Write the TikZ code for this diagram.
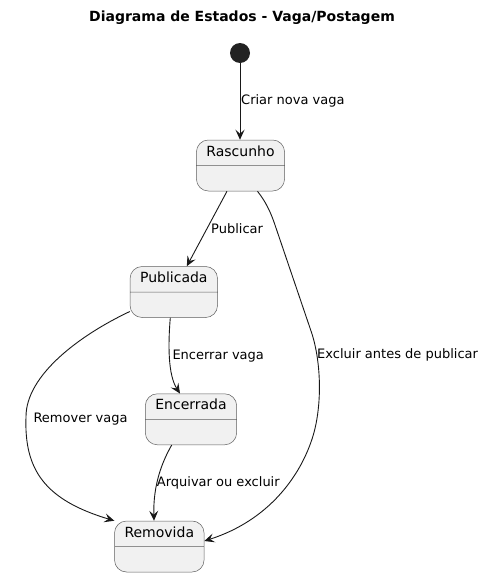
\documentclass[tikz,border=0pt]{standalone}
\usepackage{fontspec}
\setmainfont{DejaVu Sans}
\usepackage{xcolor}
\usetikzlibrary{
  arrows.meta,
  shapes.multipart
}
\definecolor{statefill}{HTML}{F1F1F1}
\definecolor{lineclr}{HTML}{181818}
\definecolor{startclr}{HTML}{222222}

\begin{document}
\begin{tikzpicture}[x=1pt, y=-1pt,
  state/.style = {rectangle split, rectangle split parts=2,
    draw=lineclr!70, fill=statefill, line width=0.5pt,
    rounded corners=12pt, inner xsep=10pt, inner ysep=4pt,
    font=\fontsize{14}{17}\selectfont},
  lbl/.style = {anchor=west, inner sep=0pt, font=\fontsize{13}{15.6}\selectfont},
  arr/.style = {draw=lineclr, line width=0.9pt,
    -{Stealth[length=10pt, width=9pt, inset=4pt]}}]
  \useasboundingbox (0,0) rectangle (485,576);
  \node[font=\bfseries\fontsize{14}{17}\selectfont] (title) at (242,18) {Diagrama de Estados - Vaga/Postagem};
  \node[circle, fill=startclr, minimum size=20pt, inner sep=0pt] (init) at (240,53) {};
  \node[state] (rasc) at (240.5,165.5) {\strut Rascunho\nodepart{two}\strut};
  \node[state] (publ) at (173.8,292) {\strut Publicada\nodepart{two}\strut};
  \node[state] (ence) at (191,419.3) {\strut Encerrada\nodepart{two}\strut};
  \node[state] (remo) at (159.3,546.5) {\strut Removida\nodepart{two}\strut};

  \draw[arr] (init) -- (init |- rasc.north);
  \draw[arr] ([xshift=-13.5pt]rasc.south) -- ([xshift=13pt]publ.north);
  \draw[arr] ([xshift=17pt]rasc.south) .. controls (266,202) and (271,213) .. (275,225)
    -- (311.7,333) .. controls (322,365) and (322,410) .. (311.7,440)
    .. controls (300,475) and (270,520) .. ([yshift=5.5pt]remo.east);
  \draw[arr] ([yshift=-19.5pt]publ.west) .. controls (80,335) and (26,375) .. (26,416.7)
    .. controls (24,470) and (45,500) .. ([xshift=-45pt]remo.north);
  \draw[arr] ([xshift=-3.5pt]publ.south) .. controls (168,345) and (168,375) .. ([xshift=-11pt]ence.north);
  \draw[arr] ([xshift=-19.3pt]ence.south) .. controls (162,462) and (153,485) .. ([xshift=-5.3pt]remo.north);

  \node[lbl] (lcriar) at (241,101) {Criar nova vaga};
  \node[lbl] (lpubl) at (211,228.3) {Publicar};
  \node[lbl] (lexcl) at (317,355) {Excluir antes de publicar};
  \node[lbl] (lence) at (172.3,355.7) {Encerrar vaga};
  \node[lbl] (lremo) at (33.3,419.3) {Remover vaga};
  \node[lbl] (larq) at (156.7,482.7) {Arquivar ou excluir};
\end{tikzpicture}
\end{document}
